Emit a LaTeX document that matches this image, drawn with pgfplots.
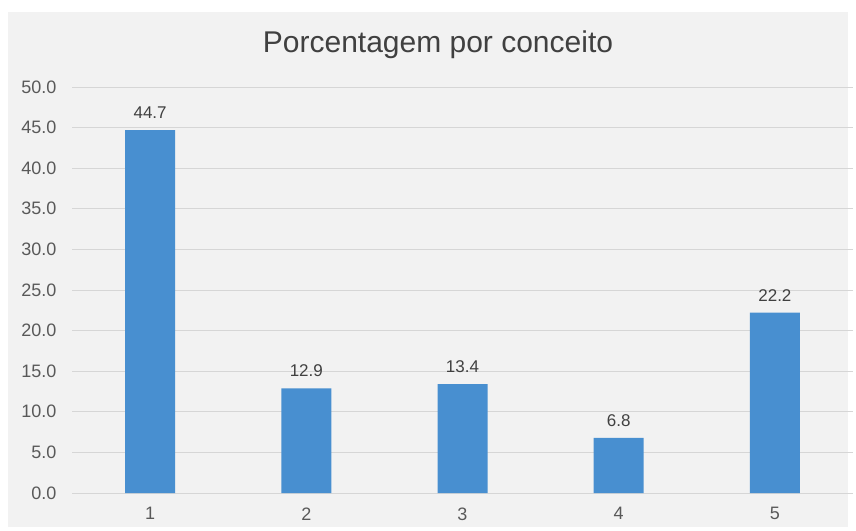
\documentclass[border=0pt]{standalone}
\usepackage{fontspec}
\setmainfont{Liberation Sans}
\usepackage{pgfplots}
\pgfplotsset{compat=1.18}
\definecolor{barblue}{RGB}{72,143,208}
\definecolor{bg}{RGB}{242,242,242}
\definecolor{gridc}{RGB}{214,214,214}
\definecolor{txt}{RGB}{89,89,89}
\definecolor{lbl}{RGB}{64,64,64}
\begin{document}
\begin{tikzpicture}[x=1pt,y=1pt]
\fill[white] (0,0) rectangle (856,530);
\fill[bg] (8,3) rectangle (848,518);
\node[text=lbl, font=\fontsize{30}{35}\selectfont] at (438,485) {Porcentagem por conceito};
\begin{axis}[
  at={(72pt,37pt)}, anchor=south west,
  scale only axis, width=781pt, height=406pt,
  xmin=0.5, xmax=5.5, ymin=0, ymax=50,
  axis line style={draw=none},
  xtick={1,2,3,4,5}, ytick={0,5,...,50},
  major tick length=0pt,
  ymajorgrids, grid style={gridc, line width=0.9pt},
  /pgf/number format/assume math mode=true,
  yticklabel style={/pgf/number format/fixed, /pgf/number format/fixed zerofill, /pgf/number format/precision=1, xshift=-12pt},
  ticklabel style={text=txt, font=\fontsize{18}{21}\selectfont},
  xticklabel style={yshift=-11pt},
  nodes near coords,
  every node near coord/.append style={text=lbl, font=\fontsize{17}{20}\selectfont, yshift=8pt,
    /pgf/number format/fixed, /pgf/number format/fixed zerofill, /pgf/number format/precision=1},
]
\addplot[ybar, bar width=50pt, fill=barblue, draw=none] coordinates {(1,44.7) (2,12.9) (3,13.4) (4,6.8) (5,22.2)};
\end{axis}
\end{tikzpicture}
\end{document}
